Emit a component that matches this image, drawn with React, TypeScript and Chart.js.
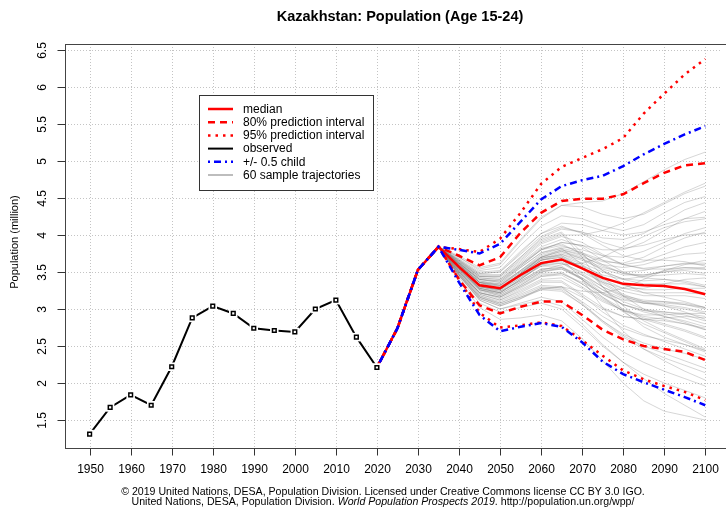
import React, { useEffect, useRef } from "react";
import { Chart, registerables } from "chart.js";

Chart.register(...registerables);

const FONT = "'Liberation Sans', Arial, Helvetica, sans-serif";

// ---- data ----
const titleText = "Kazakhstan: Population (Age 15-24)";
const yAxisTitle = "Population (million)";
const footerLine1 = "\u00a9 2019 United Nations, DESA, Population Division. Licensed under Creative Commons license CC BY 3.0 IGO.";
const footerLine2a = "United Nations, DESA, Population Division. ";
const footerLine2b = "World Population Prospects 2019";
const footerLine2c = ". http://population.un.org/wpp/";

const xTickValues = [1950, 1960, 1970, 1980, 1990, 2000, 2010, 2020, 2030, 2040, 2050, 2060, 2070, 2080, 2090, 2100];
const yTickValues = [1.5, 2, 2.5, 3, 3.5, 4, 4.5, 5, 5.5, 6, 6.5];
const yTickLabels = ["1.5", "2", "2.5", "3", "3.5", "4", "4.5", "5", "5.5", "6", "6.5"];

const observedYears = [1950, 1955, 1960, 1965, 1970, 1975, 1980, 1985, 1990, 1995, 2000, 2005, 2010, 2015, 2020];
const observedValues = [1.31, 1.67, 1.84, 1.70, 2.22, 2.88, 3.04, 2.94, 2.74, 2.71, 2.69, 3.00, 3.12, 2.62, 2.21];

const projYears = [2020, 2025, 2030, 2035, 2040, 2045, 2050, 2055, 2060, 2065, 2070, 2075, 2080, 2085, 2090, 2095, 2100];
const medianValues = [2.21, 2.74, 3.53, 3.84, 3.57, 3.32, 3.28, 3.46, 3.62, 3.67, 3.55, 3.42, 3.34, 3.32, 3.31, 3.27, 3.20];
const pi80Upper = [2.21, 2.74, 3.53, 3.84, 3.72, 3.59, 3.70, 4.03, 4.30, 4.46, 4.49, 4.49, 4.55, 4.70, 4.84, 4.94, 4.97];
const pi80Lower = [2.21, 2.74, 3.53, 3.84, 3.40, 3.05, 2.94, 3.03, 3.10, 3.10, 2.92, 2.72, 2.59, 2.50, 2.46, 2.42, 2.31];
const pi95Upper = [2.21, 2.74, 3.53, 3.84, 3.81, 3.77, 3.95, 4.30, 4.69, 4.92, 5.04, 5.16, 5.31, 5.64, 5.91, 6.17, 6.38];
const pi95Lower = [2.21, 2.74, 3.53, 3.84, 3.40, 2.95, 2.75, 2.78, 2.82, 2.77, 2.58, 2.37, 2.17, 2.05, 1.96, 1.88, 1.77];
const childUpper = [2.21, 2.74, 3.53, 3.84, 3.80, 3.75, 3.88, 4.18, 4.48, 4.66, 4.74, 4.80, 4.93, 5.09, 5.23, 5.36, 5.47];
const childLower = [2.21, 2.74, 3.53, 3.84, 3.36, 2.92, 2.70, 2.76, 2.81, 2.76, 2.55, 2.29, 2.12, 2.01, 1.91, 1.81, 1.70];

// sample trajectories, 2040..2100 (they all leave the 2035 jump-off value)
const trajJumpOffYear = 2035;
const trajYears = [2040, 2045, 2050, 2055, 2060, 2065, 2070, 2075, 2080, 2085, 2090, 2095, 2100];
const trajectories = [
  [3.58, 3.34, 3.31, 3.50, 3.68, 3.74, 3.62, 3.50, 3.41, 3.38, 3.40, 3.36, 3.30],
  [3.62, 3.40, 3.36, 3.58, 3.80, 3.90, 3.86, 3.72, 3.60, 3.55, 3.58, 3.61, 3.60],
  [3.52, 3.22, 3.16, 3.30, 3.44, 3.46, 3.30, 3.12, 2.98, 2.90, 2.86, 2.80, 2.72],
  [3.66, 3.48, 3.50, 3.74, 3.98, 4.10, 4.04, 3.90, 3.82, 3.86, 3.94, 4.00, 4.02],
  [3.48, 3.16, 3.06, 3.16, 3.26, 3.30, 3.24, 3.22, 3.28, 3.40, 3.52, 3.60, 3.66],
  [3.60, 3.36, 3.28, 3.46, 3.66, 3.70, 3.54, 3.34, 3.18, 3.08, 3.04, 3.00, 2.94],
  [3.55, 3.28, 3.22, 3.40, 3.60, 3.68, 3.58, 3.46, 3.40, 3.44, 3.52, 3.56, 3.54],
  [3.70, 3.52, 3.56, 3.86, 4.12, 4.26, 4.22, 4.12, 4.06, 4.14, 4.30, 4.44, 4.52],
  [3.45, 3.12, 3.00, 3.08, 3.16, 3.10, 2.86, 2.62, 2.42, 2.28, 2.16, 2.06, 1.96],
  [3.57, 3.30, 3.26, 3.44, 3.62, 3.64, 3.48, 3.30, 3.16, 3.10, 3.10, 3.06, 3.00],
  [3.63, 3.42, 3.40, 3.62, 3.84, 3.94, 3.84, 3.66, 3.50, 3.42, 3.40, 3.38, 3.32],
  [3.50, 3.20, 3.12, 3.24, 3.38, 3.38, 3.20, 3.02, 2.90, 2.86, 2.88, 2.90, 2.88],
  [3.59, 3.36, 3.34, 3.56, 3.76, 3.84, 3.80, 3.72, 3.70, 3.78, 3.90, 4.02, 4.10],
  [3.54, 3.26, 3.18, 3.32, 3.48, 3.50, 3.34, 3.14, 2.98, 2.86, 2.78, 2.70, 2.60],
  [3.68, 3.50, 3.52, 3.78, 4.02, 4.12, 4.02, 3.86, 3.72, 3.66, 3.66, 3.64, 3.58],
  [3.46, 3.14, 3.04, 3.14, 3.28, 3.30, 3.16, 3.00, 2.90, 2.86, 2.84, 2.80, 2.74],
  [3.61, 3.38, 3.32, 3.50, 3.70, 3.78, 3.70, 3.60, 3.56, 3.60, 3.68, 3.74, 3.76],
  [3.56, 3.30, 3.24, 3.38, 3.54, 3.56, 3.40, 3.20, 3.06, 2.98, 2.94, 2.88, 2.80],
  [3.64, 3.44, 3.44, 3.66, 3.90, 4.00, 4.00, 4.06, 4.16, 4.30, 4.44, 4.58, 4.70],
  [3.51, 3.22, 3.14, 3.28, 3.44, 3.48, 3.36, 3.22, 3.12, 3.08, 3.08, 3.06, 3.02],
  [3.58, 3.32, 3.28, 3.48, 3.70, 3.80, 3.74, 3.64, 3.62, 3.70, 3.84, 3.96, 4.04],
  [3.47, 3.16, 3.08, 3.20, 3.32, 3.30, 3.08, 2.84, 2.64, 2.50, 2.40, 2.30, 2.20],
  [3.62, 3.40, 3.38, 3.60, 3.82, 3.88, 3.74, 3.52, 3.34, 3.22, 3.16, 3.10, 3.02],
  [3.53, 3.26, 3.20, 3.36, 3.52, 3.60, 3.62, 3.70, 3.84, 3.98, 4.10, 4.18, 4.22],
  [3.72, 3.56, 3.62, 3.94, 4.24, 4.40, 4.38, 4.28, 4.22, 4.28, 4.42, 4.56, 4.66],
  [3.49, 3.18, 3.10, 3.22, 3.36, 3.36, 3.18, 2.96, 2.78, 2.66, 2.56, 2.46, 2.36],
  [3.60, 3.36, 3.30, 3.48, 3.66, 3.70, 3.56, 3.38, 3.24, 3.18, 3.18, 3.18, 3.14],
  [3.56, 3.30, 3.26, 3.46, 3.66, 3.74, 3.66, 3.54, 3.46, 3.46, 3.50, 3.52, 3.48],
  [3.43, 3.08, 2.96, 3.02, 3.08, 3.00, 2.76, 2.50, 2.28, 2.12, 2.00, 1.90, 1.80],
  [3.65, 3.46, 3.46, 3.70, 3.96, 4.08, 4.04, 3.96, 3.94, 4.02, 4.18, 4.34, 4.44],
  [3.55, 3.28, 3.22, 3.40, 3.58, 3.62, 3.50, 3.36, 3.28, 3.28, 3.34, 3.40, 3.42],
  [3.50, 3.22, 3.16, 3.32, 3.50, 3.56, 3.46, 3.30, 3.18, 3.12, 3.10, 3.08, 3.02],
  [3.62, 3.40, 3.36, 3.56, 3.76, 3.82, 3.60, 3.30, 3.04, 2.84, 2.70, 2.58, 2.46],
  [3.58, 3.32, 3.26, 3.42, 3.58, 3.58, 3.40, 3.16, 2.96, 2.80, 2.68, 2.56, 2.44],
  [3.67, 3.48, 3.50, 3.76, 4.02, 4.16, 4.14, 4.06, 4.00, 4.04, 4.14, 4.22, 4.24],
  [3.52, 3.24, 3.18, 3.34, 3.50, 3.54, 3.42, 3.26, 3.14, 3.08, 3.06, 3.02, 2.96],
  [3.60, 3.36, 3.32, 3.52, 3.74, 3.82, 3.76, 3.66, 3.60, 3.64, 3.74, 3.84, 3.90],
  [3.46, 3.12, 3.00, 3.06, 3.12, 3.04, 2.80, 2.52, 2.28, 2.06, 1.86, 1.70, 1.54],
  [3.63, 3.42, 3.40, 3.60, 3.80, 3.86, 3.76, 3.60, 3.48, 3.44, 3.46, 3.48, 3.46],
  [3.54, 3.28, 3.24, 3.42, 3.62, 3.68, 3.40, 3.02, 2.70, 2.46, 2.30, 2.16, 2.04],
  [3.70, 3.54, 3.60, 3.92, 4.22, 4.40, 4.44, 4.46, 4.56, 4.72, 4.88, 5.02, 5.12],
  [3.48, 3.18, 3.08, 3.18, 3.30, 3.28, 3.10, 2.90, 2.74, 2.64, 2.58, 2.52, 2.44],
  [3.57, 3.32, 3.28, 3.48, 3.68, 3.76, 3.68, 3.56, 3.50, 3.52, 3.58, 3.62, 3.62],
  [3.61, 3.38, 3.34, 3.52, 3.70, 3.72, 3.56, 3.36, 3.20, 3.10, 3.04, 2.96, 2.86],
  [3.40, 3.02, 2.86, 2.88, 2.92, 2.84, 2.60, 2.30, 2.00, 1.76, 1.62, 1.56, 1.50],
  [3.66, 3.46, 3.46, 3.70, 3.94, 4.04, 3.76, 3.44, 3.18, 3.00, 2.90, 2.82, 2.72],
  [3.53, 3.26, 3.22, 3.40, 3.60, 3.66, 3.56, 3.40, 3.28, 3.22, 3.22, 3.22, 3.20],
  [3.59, 3.34, 3.28, 3.44, 3.60, 3.62, 3.46, 3.26, 3.10, 3.00, 2.96, 2.92, 2.84],
  [3.64, 3.44, 3.42, 3.64, 3.88, 3.98, 3.90, 3.74, 3.60, 3.54, 3.54, 3.56, 3.56],
  [3.50, 3.20, 3.12, 3.26, 3.40, 3.42, 3.28, 3.10, 2.98, 2.92, 2.92, 2.94, 2.94],
  [3.56, 3.30, 3.26, 3.46, 3.66, 3.72, 3.60, 3.44, 3.32, 3.26, 3.26, 3.28, 3.28],
  [3.47, 3.16, 3.06, 3.16, 3.28, 3.26, 3.06, 2.82, 2.62, 2.46, 2.34, 2.24, 2.14],
  [3.62, 3.40, 3.38, 3.58, 3.80, 3.90, 3.86, 3.80, 3.80, 3.90, 4.06, 4.22, 4.32],
  [3.55, 3.28, 3.22, 3.38, 3.54, 3.56, 3.42, 3.22, 3.06, 2.96, 2.90, 2.84, 2.76],
  [3.58, 3.32, 3.28, 3.48, 3.70, 3.78, 3.68, 3.52, 3.40, 3.34, 3.34, 3.34, 3.30],
  [3.51, 3.22, 3.16, 3.30, 3.46, 3.48, 3.34, 3.16, 3.00, 2.88, 2.80, 2.72, 2.62],
  [3.65, 3.44, 3.44, 3.68, 3.92, 4.02, 3.70, 3.30, 2.98, 2.76, 2.62, 2.52, 2.42],
  [3.45, 3.14, 3.04, 3.14, 3.26, 3.24, 3.06, 2.84, 2.66, 2.54, 2.46, 2.40, 2.32],
  [3.60, 3.36, 3.32, 3.52, 3.72, 3.80, 3.72, 3.58, 3.48, 3.46, 3.50, 3.54, 3.54],
  [3.54, 3.26, 3.20, 3.36, 3.52, 3.54, 3.40, 3.20, 3.06, 2.98, 2.96, 2.94, 2.90],
];

const legendLabels = ["median", "80% prediction interval", "95% prediction interval", "observed", "+/- 0.5 child", "60 sample trajectories"];

// ---- styles ----
const RED = "#ff0000";
const BLUE = "#0000ff";
const DASH80 = [7, 5];
const DOT95 = [2.5, 5];
const DOTDASH = [2, 4, 7, 4];
const TRAJ_COLOR = "rgba(120,120,120,0.3)";

const legendStyles = [
  { color: RED, width: 2.5, dash: [] as number[] },
  { color: RED, width: 2.5, dash: DASH80 },
  { color: RED, width: 2.5, dash: DOT95 },
  { color: "#000", width: 2, dash: [] as number[] },
  { color: BLUE, width: 2.5, dash: DOTDASH },
  { color: "#bdbdbd", width: 2, dash: [] as number[] },
];

const decorPlugin = {
  id: "decor",
  beforeDatasetsDraw(chart: any) {
    const { ctx, chartArea, scales } = chart;
    const xs = scales.x;
    const ys = scales.y;
    ctx.save();
    ctx.strokeStyle = "#c4c4c4";
    ctx.lineWidth = 1;
    ctx.setLineDash([1, 2]);
    for (const v of xTickValues) {
      const px = Math.round(xs.getPixelForValue(v)) + 0.5;
      ctx.beginPath();
      ctx.moveTo(px, chartArea.top);
      ctx.lineTo(px, chartArea.bottom);
      ctx.stroke();
    }
    for (const v of yTickValues) {
      const py = Math.round(ys.getPixelForValue(v)) + 0.5;
      ctx.beginPath();
      ctx.moveTo(chartArea.left, py);
      ctx.lineTo(chartArea.right, py);
      ctx.stroke();
    }
    ctx.restore();
  },
  afterDraw(chart: any) {
    const { ctx, chartArea, scales } = chart;
    const xs = scales.x;
    const ys = scales.y;
    ctx.save();
    // frame
    ctx.setLineDash([]);
    ctx.strokeStyle = "#444";
    ctx.lineWidth = 1;
    ctx.strokeRect(Math.round(chartArea.left) + 0.5, Math.round(chartArea.top) + 0.5, chartArea.right - chartArea.left + 20, Math.round(chartArea.bottom - chartArea.top));
    // ticks
    ctx.strokeStyle = "#333";
    const bottom = Math.round(chartArea.bottom) + 0.5;
    const left = Math.round(chartArea.left) + 0.5;
    ctx.fillStyle = "#000";
    ctx.font = `12px ${FONT}`;
    ctx.textAlign = "center";
    ctx.textBaseline = "middle";
    for (const v of xTickValues) {
      const px = Math.round(xs.getPixelForValue(v)) + 0.5;
      ctx.beginPath();
      ctx.moveTo(px, bottom);
      ctx.lineTo(px, bottom + 7);
      ctx.stroke();
      ctx.fillText(String(v), px, 470);
    }
    yTickValues.forEach((v, i) => {
      const py = Math.round(ys.getPixelForValue(v)) + 0.5;
      ctx.beginPath();
      ctx.moveTo(left, py);
      ctx.lineTo(left - 8, py);
      ctx.stroke();
      ctx.save();
      ctx.translate(43, py);
      ctx.rotate(-Math.PI / 2);
      ctx.fillText(yTickLabels[i], 0, 0);
      ctx.restore();
    });
    // title
    ctx.font = `bold 14.5px ${FONT}`;
    ctx.fillText(titleText, 400, 17);
    // y axis title
    ctx.font = `11px ${FONT}`;
    ctx.save();
    ctx.translate(15, 242);
    ctx.rotate(-Math.PI / 2);
    ctx.fillText(yAxisTitle, 0, 0);
    ctx.restore();
    // footer
    const fa = `10.6px ${FONT}`;
    const fb = `italic 10.6px ${FONT}`;
    ctx.font = fa;
    ctx.fillText(footerLine1, 383, 492);
    const wa = ctx.measureText(footerLine2a).width;
    const wc = ctx.measureText(footerLine2c).width;
    ctx.font = fb;
    const wb = ctx.measureText(footerLine2b).width;
    const x0 = 383 - (wa + wb + wc) / 2;
    ctx.textAlign = "left";
    ctx.font = fa;
    ctx.fillText(footerLine2a, x0, 502);
    ctx.font = fb;
    ctx.fillText(footerLine2b, x0 + wa, 502);
    ctx.font = fa;
    ctx.fillText(footerLine2c, x0 + wa + wb, 502);
    // legend
    ctx.fillStyle = "#fff";
    ctx.fillRect(199.5, 95.5, 174, 95);
    ctx.strokeStyle = "#333";
    ctx.lineWidth = 1;
    ctx.strokeRect(199.5, 95.5, 174, 95);
    ctx.font = `12px ${FONT}`;
    ctx.textBaseline = "middle";
    legendLabels.forEach((lab, i) => {
      const y = 109 + i * 13.2;
      const st = legendStyles[i];
      ctx.strokeStyle = st.color;
      ctx.lineWidth = st.width;
      ctx.setLineDash(st.dash);
      ctx.beginPath();
      ctx.moveTo(208, y);
      ctx.lineTo(233, y);
      ctx.stroke();
      ctx.setLineDash([]);
      ctx.fillStyle = "#000";
      ctx.fillText(lab, 243, y + 0.5);
    });
    ctx.restore();
  },
};

function pts(xs: number[], ys: number[]) {
  return xs.map((x, i) => ({ x, y: ys[i] }));
}

function lineDs(label: string, xs: number[], ys: number[], color: string, width: number, dash: number[]) {
  return {
    label,
    data: pts(xs, ys),
    borderColor: color,
    borderWidth: width,
    borderDash: dash,
    pointRadius: 0,
    fill: false,
    tension: 0,
    borderCapStyle: "butt",
  };
}

export default function App() {
  const ref = useRef<HTMLCanvasElement>(null);
  useEffect(() => {
    const canvas = ref.current;
    if (!canvas) return;
    const jumpIdx = projYears.indexOf(trajJumpOffYear);
    const jumpVal = medianValues[jumpIdx];
    // datasets listed top-most first (Chart.js draws index 0 last)
    const datasets: any[] = [];
    datasets.push({
      label: "observed points",
      data: pts(observedYears, observedValues),
      showLine: false,
      pointStyle: "rect",
      pointRadius: 2.6,
      pointBackgroundColor: "#fff",
      pointBorderColor: "#000",
      pointBorderWidth: 1.5,
    });
    datasets.push({
      label: "observed gap",
      data: pts(observedYears, observedValues),
      showLine: false,
      pointStyle: "rect",
      pointRadius: 6,
      pointBackgroundColor: "#fff",
      pointBorderColor: "#fff",
      pointBorderWidth: 0,
    });
    datasets.push(lineDs("observed", observedYears, observedValues, "#000", 2, []));
    datasets.push(lineDs("child upper", projYears, childUpper, BLUE, 2.5, DOTDASH));
    datasets.push(lineDs("child lower", projYears, childLower, BLUE, 2.5, DOTDASH));
    datasets.push(lineDs("80% upper", projYears, pi80Upper, RED, 2.5, DASH80));
    datasets.push(lineDs("80% lower", projYears, pi80Lower, RED, 2.5, DASH80));
    datasets.push(lineDs("95% upper", projYears, pi95Upper, RED, 2.5, DOT95));
    datasets.push(lineDs("95% lower", projYears, pi95Lower, RED, 2.5, DOT95));
    datasets.push(lineDs("median", projYears, medianValues, RED, 2.5, []));
    trajectories.forEach((t, i) => {
      datasets.push(lineDs("traj " + (i + 1), [trajJumpOffYear, ...trajYears], [jumpVal, ...t], TRAJ_COLOR, 1, []));
    });
    const chart = new Chart(canvas, {
      type: "line",
      data: { datasets },
      options: {
        responsive: false,
        animation: false,
        devicePixelRatio: 1,
        events: [],
        layout: { padding: { left: 65, top: 44, right: 0, bottom: 60 } },
        plugins: {
          legend: { display: false },
          title: { display: false },
          tooltip: { enabled: false },
        },
        scales: {
          x: { type: "linear", display: false, min: 1944, max: 2103.6 },
          y: { type: "linear", display: false, min: 1.122, max: 6.581 },
        },
      } as any,
      plugins: [decorPlugin],
    });
    return () => chart.destroy();
  }, []);
  return (
    <div style={{ position: "fixed", left: 0, top: 0, width: 726, height: 508, background: "#fff" }}>
      <canvas ref={ref} width={726} height={508} style={{ display: "block", width: 726, height: 508 }} />
    </div>
  );
}
